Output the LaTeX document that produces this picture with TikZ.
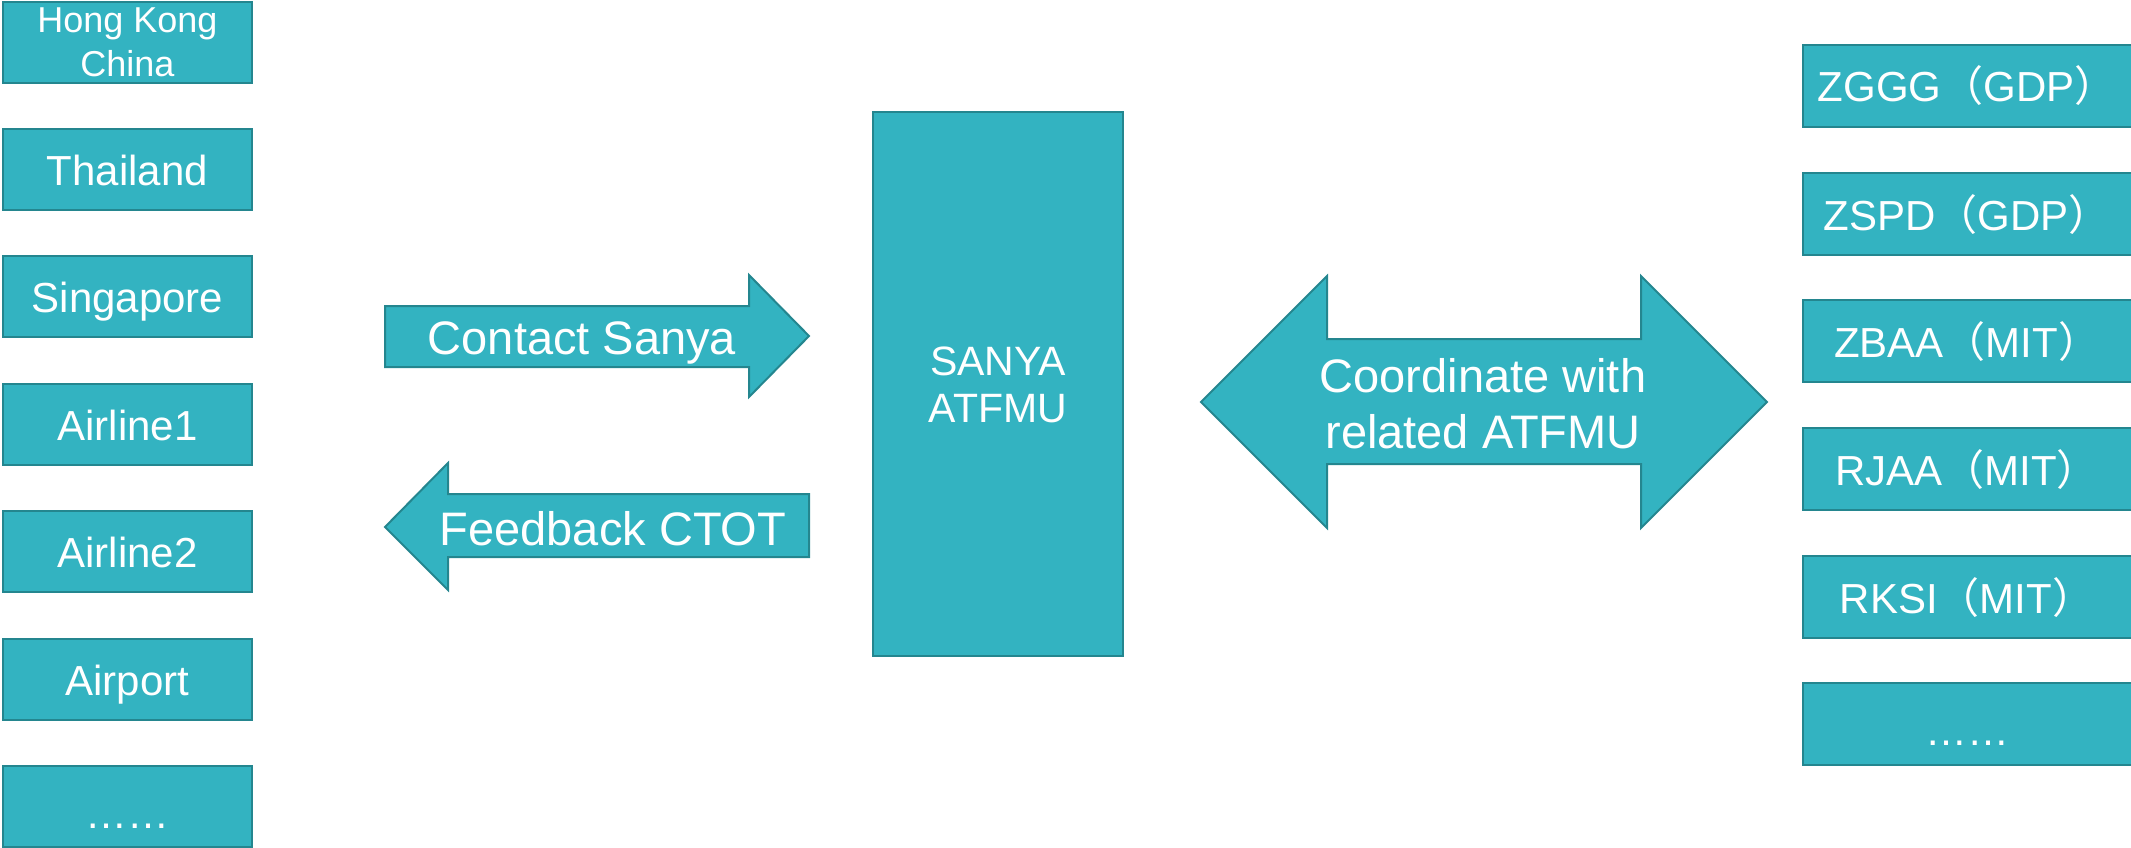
\documentclass[tikz,border=0pt]{standalone}
\usepackage{fontspec}
\setmainfont{Liberation Sans}
\newfontfamily\cjk{Noto Sans CJK SC}
\definecolor{tealfill}{RGB}{51,179,193}
\definecolor{tealline}{RGB}{36,134,143}
\begin{document}
\begin{tikzpicture}[x=1pt,y=-1pt,
  blk/.style={fill=tealfill,draw=tealline,line width=2pt},
  lbl/.style={text=white,inner sep=0pt,align=center},
  f42/.style={font=\fontsize{42}{48}\selectfont},
  f47/.style={font=\fontsize{47}{56}\selectfont}]
\useasboundingbox (0,0) rectangle (2131,848);
% left column
\foreach \t/\n in {2/hk,129/th,256/sg,384/a1,511/a2,639/ap,766/ld}{
  \draw[blk] (3,\t) rectangle ++(249,81) coordinate (\n-br);
}
\node[lbl,font=\fontsize{36}{44}\selectfont] (hk) at (127.5,42.5) {Hong Kong\\China};
\node[lbl,f42,anchor=base] (th) at (127.5,185.5) {Thailand};
\node[lbl,f42,anchor=base] (sg) at (127.5,312.5) {Singapore};
\node[lbl,f42,anchor=base] (a1) at (127.5,440.5) {Airline1};
\node[lbl,f42,anchor=base] (a2) at (127.5,567.5) {Airline2};
\node[lbl,f42,anchor=base] (ap) at (127.5,695.5) {Airport};
\node[lbl,f42,anchor=base] (ld) at (127.5,828) {……};
% arrows to/from Sanya
\draw[blk] (385,306) -- (749,306) -- (749,275) -- (809,336) -- (749,397) -- (749,367) -- (385,367) -- cycle;
\node[lbl,f47,anchor=base] (contact) at (582,354) {Contact Sanya};
\draw[blk] (809,494) -- (448,494) -- (448,463) -- (385,527) -- (448,590) -- (448,557) -- (809,557) -- cycle;
\node[lbl,f47,anchor=base] (feedback) at (613,545) {Feedback CTOT};
% central box
\draw[blk] (873,112) rectangle (1123,656);
\node[lbl,font=\fontsize{41}{47}\selectfont] (sanya) at (998,385) {SANYA\\ATFMU};
% double arrow
\draw[blk] (1201,402) -- (1327,276) -- (1327,339) -- (1641,339) -- (1641,276) -- (1767,402) -- (1641,528) -- (1641,464) -- (1327,464) -- (1327,528) -- cycle;
\node[lbl,f47] (coord) at (1483,404) {Coordinate with\\related ATFMU};
% right column
\foreach \t in {45,173,300,428,556,683}{
  \draw[blk] (1803,\t) rectangle ++(332,82);
}
\node[lbl,f42,anchor=base] (zggg) at (1967,102) {ZGGG{\cjk（}GDP{\cjk）}};
\node[lbl,f42,anchor=base] (zspd) at (1967,230) {ZSPD{\cjk（}GDP{\cjk）}};
\node[lbl,f42,anchor=base] (zbaa) at (1967,357) {ZBAA{\cjk（}MIT{\cjk）}};
\node[lbl,f42,anchor=base] (rjaa) at (1967,485) {RJAA{\cjk（}MIT{\cjk）}};
\node[lbl,f42,anchor=base] (rksi) at (1967,613) {RKSI{\cjk（}MIT{\cjk）}};
\node[lbl,f42,anchor=base] (rd) at (1967,745) {……};
\end{tikzpicture}
\end{document}
